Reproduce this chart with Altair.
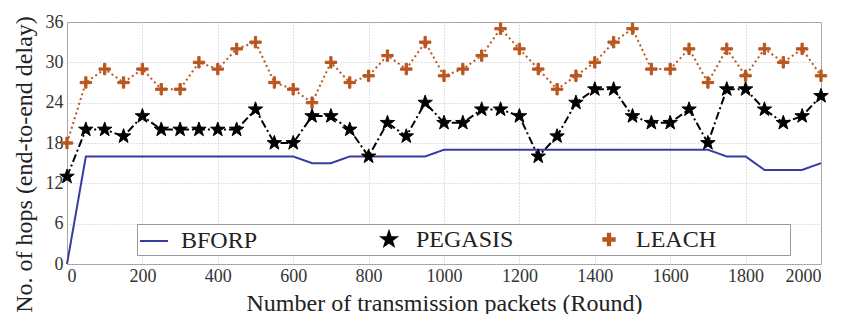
import altair as alt
import pandas as pd

rounds = [0, 50, 100, 150, 200, 250, 300, 350, 400, 450, 500, 550, 600, 650, 700, 750, 800,
          850, 900, 950, 1000, 1050, 1100, 1150, 1200, 1250, 1300, 1350, 1400, 1450, 1500,
          1550, 1600, 1650, 1700, 1750, 1800, 1850, 1900, 1950, 2000]
bforp = [0, 16, 16, 16, 16, 16, 16, 16, 16, 16, 16, 16, 16, 15, 15, 16, 16, 16, 16, 16, 17,
         17, 17, 17, 17, 17, 17, 17, 17, 17, 17, 17, 17, 17, 17, 16, 16, 14, 14, 14, 15]
pegasis = [13, 20, 20, 19, 22, 20, 20, 20, 20, 20, 23, 18, 18, 22, 22, 20, 16, 21, 19, 24, 21,
           21, 23, 23, 22, 16, 19, 24, 26, 26, 22, 21, 21, 23, 18, 26, 26, 23, 21, 22, 25]
leach = [18, 27, 29, 27, 29, 26, 26, 30, 29, 32, 33, 27, 26, 24, 30, 27, 28, 31, 29, 33, 28,
         29, 31, 35, 32, 29, 26, 28, 30, 33, 35, 29, 29, 32, 27, 32, 28, 32, 30, 32, 28]
series = ["BFORP", "PEGASIS", "LEACH"]
x_ticks = [0, 200, 400, 600, 800, 1000, 1200, 1400, 1600, 1800, 2000]
y_ticks = [0, 6, 12, 18, 24, 30, 36]

rows = []
for name, vals in zip(series, [bforp, pegasis, leach]):
    for r, v in zip(rounds, vals):
        rows.append({"round": r, "value": v, "series": name})
df = pd.DataFrame(rows)

FONT = "Liberation Serif, Times New Roman, serif"
colors = ["#3a3aa6", "#000000", "#b9561f"]
dashes = [[1, 0], [8, 3, 2, 3], [2, 3]]
star = ("M0,-1L0.235,-0.324L0.951,-0.309L0.38,0.124L0.588,0.809L0,0.4L-0.588,0.809"
        "L-0.38,0.124L-0.951,-0.309L-0.235,-0.324Z")
plus = ("M-1,-0.2L-0.2,-0.2L-0.2,-1L0.2,-1L0.2,-0.2L1,-0.2L1,0.2L0.2,0.2L0.2,1"
        "L-0.2,1L-0.2,0.2L-1,0.2Z")

pad = "\u2800"
label_expr = ("datum.label == 'BFORP' ? 'BFORP" + pad * 2 + "' : "
              "(datum.label == 'LEACH' ? 'LEACH" + pad * 4 + "' : datum.label)")

legend = alt.Legend(
    title=None, orient="none", legendX=70, legendY=202, direction="horizontal",
    columns=3, gridAlign="each", columnPadding=80, labelOffset=12,
    labelFont=FONT, labelFontSize=24, labelColor="#222", labelLimit=400,
    labelExpr=label_expr, padding=2, strokeColor="#999999", fillColor="white",
    symbolStrokeWidth=2,
)

x_enc = alt.X("round:Q", scale=alt.Scale(domain=[0, 2000], nice=False),
              axis=alt.Axis(values=x_ticks, format="d",
                            title="Number of transmission packets (Round)",
                            titleY=46, titleBaseline="alphabetic"))
y_enc = alt.Y("value:Q", scale=alt.Scale(domain=[0, 36], nice=False),
              axis=alt.Axis(values=y_ticks, title="No. of hops (end-to-end delay)",
                            titleX=-36, titleY=142, titleAngle=270,
                            titleAlign="center", titleBaseline="alphabetic"))
color_scale = alt.Scale(domain=series, range=colors)

line_layers = []
for name, dash in zip(series, dashes):
    line_layers.append(
        alt.Chart(df).transform_filter(
            alt.datum.series == name
        ).mark_line(strokeWidth=2, strokeDash=dash).encode(
            x=x_enc, y=y_enc,
            color=alt.Color("series:N", scale=color_scale, legend=legend),
        )
    )

points = alt.Chart(df).transform_filter(
    "datum.series != 'BFORP'"
).mark_point(filled=False, opacity=1, strokeWidth=1).encode(
    x=x_enc, y=y_enc,
    color=alt.Color("series:N", scale=color_scale, legend=legend),
    fill=alt.Fill("series:N", scale=color_scale, legend=legend),
    shape=alt.Shape("series:N", scale=alt.Scale(domain=series, range=["stroke", star, plus]),
                    legend=legend),
    size=alt.Size("series:N", scale=alt.Scale(type="ordinal", domain=series, range=[784, 230, 130]),
                  legend=legend),
)

chart = alt.layer(*line_layers, points).properties(
    width=754, height=242,
    padding={"left": 59, "top": 14, "right": 12, "bottom": 50},
    autosize=alt.AutoSizeParams(type="none"),
).configure_view(
    stroke="#9a9a9a", strokeWidth=1
).configure_axis(
    labelFont=FONT, titleFont=FONT, labelFontSize=18, titleFontSize=24,
    labelColor="#333", titleColor="#222", titleFontWeight="normal",
    grid=True, gridColor="#c0c0c0", gridDash=[1, 2], gridWidth=1,
    domain=False, ticks=False, labelPadding=4,
).configure_axisX(labelPadding=3)

chart.save("out.html", embed_options={"renderer": "svg", "actions": False})
